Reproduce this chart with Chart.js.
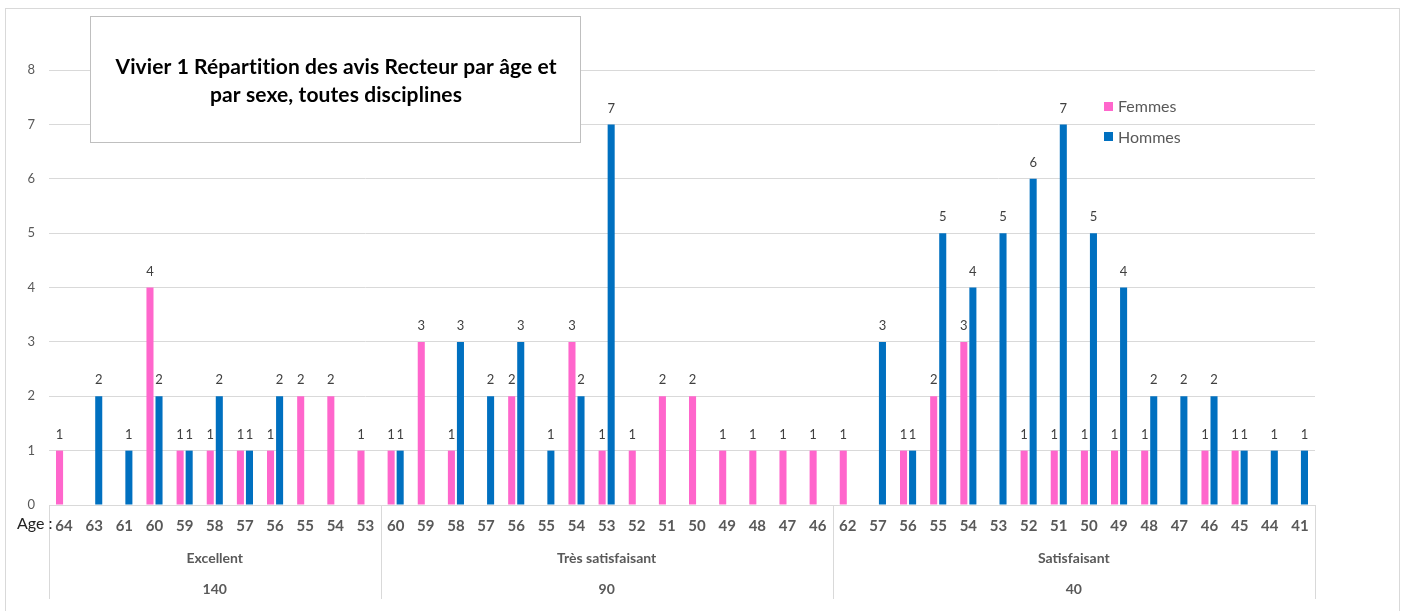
<!DOCTYPE html>
<html>
<head>
<meta charset="utf-8">
<script src="https://cdn.jsdelivr.net/npm/chart.js@4.4.1/dist/chart.umd.min.js"></script>
<style>
  body { margin: 0; background: #fff; }
  canvas { display: block; }
</style>
</head>
<body>
<canvas id="chart-avis" width="1405" height="611"></canvas>
<script>
// Data
const ages = [
  '64', '63', '61', '60', '59', '58', '57', '56', '55', '54', '53',
  '60', '59', '58', '57', '56', '55', '54', '53', '52', '51', '50', '49', '48', '47', '46',
  '62', '57', '56', '55', '54', '53', '52', '51', '50', '49', '48', '47', '46', '45', '44', '41'
];
const groups = ['Excellent', 'Très satisfaisant', 'Satisfaisant'];
const groupTotals = ['140', '90', '40'];
const groupSizes = [11, 15, 16];
const femmes = [
  1, null, null, 4, 1, 1, 1, 1, 2, 2, 1,
  1, 3, 1, null, 2, null, 3, 1, 1, 2, 2, 1, 1, 1, 1,
  1, null, 1, 2, 3, null, 1, 1, 1, 1, 1, null, 1, 1, null, null
];
const hommes = [
  null, 2, 1, 2, 1, 2, 1, 2, null, null, null,
  1, null, 3, 2, 3, 1, 2, 7, null, null, null, null, null, null, null,
  null, 3, 1, 5, 4, 5, 6, 7, 5, 4, 2, 2, 2, 1, 1, 1
];
const yTicks = [0, 1, 2, 3, 4, 5, 6, 7, 8];

const pink = '#FF66CC';
const blue = '#0070C0';
const greyText = '#595959';
const gridGrey = '#d9d9d9';

// Plugin: labels, category groups, title box, legend
const decorPlugin = {
  id: 'decor',
  afterDraw(chart) {
    const ctx = chart.ctx;
    const xs = chart.scales.x;
    const area = chart.chartArea;
    ctx.save();

    // values above bars
    ctx.font = '13px Lato';
    ctx.fillStyle = '#404040';
    ctx.textAlign = 'center';
    ctx.textBaseline = 'middle';
    chart.data.datasets.forEach((ds, di) => {
      chart.getDatasetMeta(di).data.forEach((bar, i) => {
        if (ds.data[i] == null) return;
        ctx.fillText(ds.data[i], bar.x, bar.y - 16);
      });
    });

    // x axis line
    ctx.strokeStyle = gridGrey;
    ctx.lineWidth = 1;
    ctx.beginPath();
    ctx.moveTo(area.left, area.bottom + 0.5);
    ctx.lineTo(area.right, area.bottom + 0.5);
    ctx.stroke();

    // age labels
    ctx.font = 'bold 15px Lato';
    ctx.fillStyle = greyText;
    ages.forEach((a, i) => {
      ctx.fillText(a, xs.getPixelForValue(i), area.bottom + 21);
    });

    // group separators and labels
    const catW = (area.right - area.left) / ages.length;
    let start = 0;
    const bounds = [area.left];
    groupSizes.forEach((n, g) => {
      const x0 = area.left + start * catW;
      const x1 = area.left + (start + n) * catW;
      bounds.push(x1);
      ctx.font = 'bold 14px Lato';
      ctx.fillStyle = greyText;
      ctx.fillText(groups[g], (x0 + x1) / 2, area.bottom + 53);
      ctx.fillText(groupTotals[g], (x0 + x1) / 2, area.bottom + 84);
      start += n;
    });
    ctx.strokeStyle = gridGrey;
    bounds.forEach(b => {
      const x = Math.round(b) + 0.5;
      ctx.beginPath();
      ctx.moveTo(x, area.bottom);
      ctx.lineTo(x, area.bottom + 94);
      ctx.stroke();
    });

    // Age : label
    ctx.font = '16px Lato';
    ctx.fillStyle = '#222';
    ctx.textAlign = 'left';
    ctx.fillText('Age :', 17, area.bottom + 19);

    // title box
    ctx.fillStyle = '#fff';
    ctx.fillRect(90, 16, 490, 126);
    ctx.strokeStyle = '#bfbfbf';
    ctx.strokeRect(90.5, 16.5, 490, 126);
    ctx.fillStyle = '#000';
    ctx.textAlign = 'center';
    ctx.font = 'bold 21px Lato';
    ctx.letterSpacing = '0.1px';
    ctx.fillText('Vivier 1 Répartition des avis Recteur par âge et', 336, 67);
    ctx.fillText('par sexe, toutes disciplines', 336, 95);
    ctx.letterSpacing = '0px';

    // legend
    ctx.textAlign = 'left';
    ctx.font = '16px Lato';
    ctx.fillStyle = pink;
    ctx.fillRect(1104, 102, 9, 9);
    ctx.fillStyle = blue;
    ctx.fillRect(1104, 132, 9, 9);
    ctx.fillStyle = greyText;
    ctx.fillText('Femmes', 1118, 107);
    ctx.fillText('Hommes', 1118, 138);

    // outer frame
    ctx.strokeStyle = gridGrey;
    ctx.strokeRect(5.5, 8.5, 1394, 620);
    ctx.restore();
  }
};

const avisChart = new Chart(document.getElementById('chart-avis').getContext('2d'), {
  type: 'bar',
  data: {
    labels: ages,
    datasets: [
      { label: 'Femmes', data: femmes, backgroundColor: pink },
      { label: 'Hommes', data: hommes, backgroundColor: blue }
    ]
  },
  options: {
    responsive: false,
    animation: false,
    categoryPercentage: 0.6,
    barPercentage: 0.78,
    layout: { padding: { left: 0, right: 90, top: 70, bottom: 106 } },
    plugins: {
      legend: { display: false },
      tooltip: { enabled: false }
    },
    scales: {
      x: { display: false },
      y: {
        min: 0,
        max: 8,
        afterFit: s => { s.width = 49; },
        afterBuildTicks: s => { s.ticks = yTicks.map(v => ({ value: v })); },
        border: { display: false },
        grid: { color: gridGrey, drawTicks: false },
        ticks: { padding: 14, color: greyText, font: { family: 'Lato', size: 13 } }
      }
    }
  },
  plugins: [decorPlugin]
});
</script>
</body>
</html>
